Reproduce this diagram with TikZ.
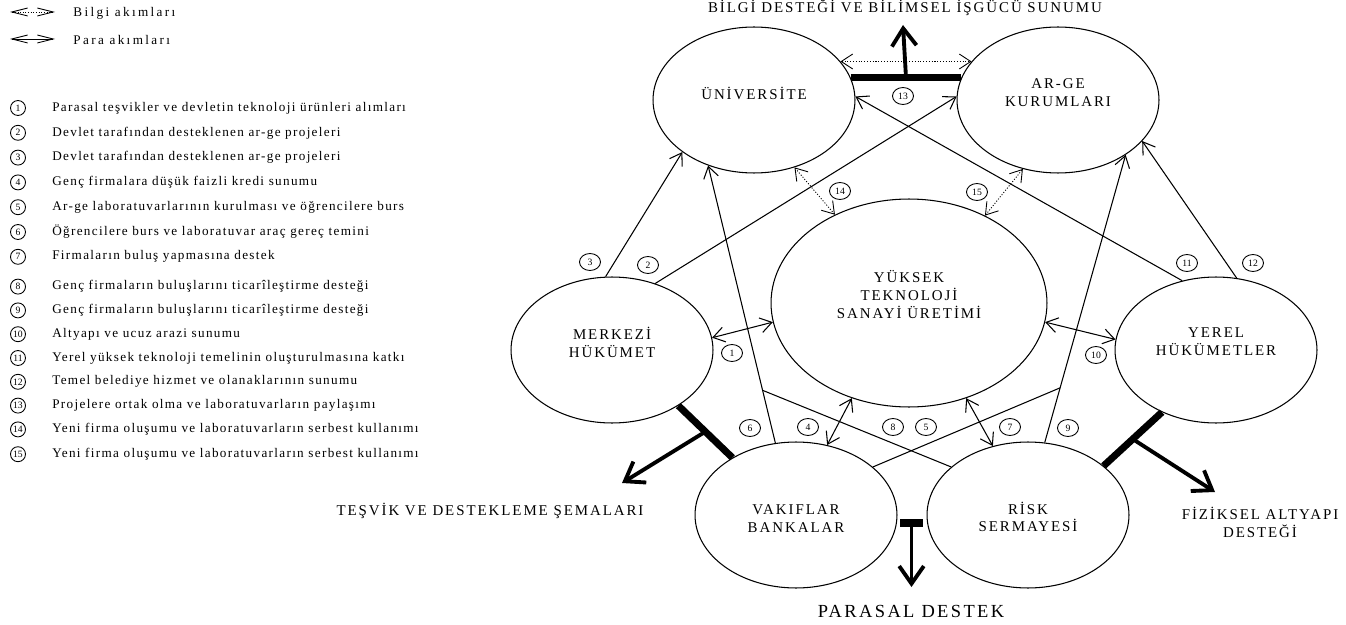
\documentclass[tikz,border=0pt]{standalone}
\usepackage{fontspec}
\setmainfont{Liberation Serif}
\newfontfamily\widefont[LetterSpace=13]{Liberation Serif}
\newfontfamily\legfont[LetterSpace=10]{Liberation Serif}
\newfontfamily\keyfont[LetterSpace=18]{Liberation Serif}
\usetikzlibrary{positioning,arrows.meta,shapes.geometric,calc}

\begin{document}
\begin{tikzpicture}[x=0.02cm, y=-0.02cm,
    actor/.style={draw, ellipse, line width=0.6pt, minimum width=4.04cm, minimum height=2.92cm, inner sep=0pt},
    actortext/.style={align=center, inner sep=0pt, font=\widefont\fontsize{8.5}{10.2}\selectfont},
    num/.style={draw, ellipse, line width=0.5pt, minimum width=0.42cm, minimum height=0.34cm, inner sep=0pt, font=\fontsize{5.5}{6}\selectfont},
    legnum/.style={draw, circle, line width=0.5pt, minimum size=0.3cm, inner sep=0pt, font=\fontsize{5.5}{6}\selectfont},
    legtext/.style={anchor=west, inner sep=0pt, font=\legfont\fontsize{7.5}{9}\selectfont},
    keytext/.style={anchor=west, inner sep=0pt, font=\keyfont\fontsize{7.5}{9}\selectfont},
    heading/.style={align=center, inner sep=0pt, font=\widefont\fontsize{8.5}{10.2}\selectfont},
    flow/.style={-{Straight Barb[length=6.5pt,width=8.5pt]}, line width=0.6pt},
    money/.style={{Straight Barb[length=6.5pt,width=8.5pt]}-{Straight Barb[length=6.5pt,width=8.5pt]}, line width=0.6pt},
    info/.style={money, densely dotted, line width=0.5pt},
    plain/.style={line width=0.6pt},
    bar/.style={line width=4pt},
    outflow/.style={-{Straight Barb[length=10pt,width=14pt]}, line width=2.2pt},
    legarrow/.style={{Straight Barb[length=9pt,width=4.5pt]}-{Straight Barb[length=9pt,width=4.5pt]}, line width=0.5pt}
]
\useasboundingbox (0,0) rectangle (1346,625);

% Legend
\coordinate (la1) at (10,12);
\coordinate (la2) at (55,12);
\draw[legarrow, densely dotted] (la1) -- (la2);
\node[keytext] (bilgi) at (73,13) {Bilgi akımları};
\coordinate (lb1) at (10,39);
\coordinate (lb2) at (55,39);
\draw[legarrow] (lb1) -- (lb2);
\node[keytext] (para) at (73,40) {Para akımları};

% Numbered list
\node[legnum] (l1) at (18,108.0) {1};
\node[legtext] at (52,108.0) {Parasal teşvikler ve devletin teknoloji ürünleri alımları};
\node[legnum] (l2) at (18,132.8) {2};
\node[legtext] at (52,132.8) {Devlet tarafından desteklenen ar-ge projeleri};
\node[legnum] (l3) at (18,157.6) {3};
\node[legtext] at (52,157.6) {Devlet tarafından desteklenen ar-ge projeleri};
\node[legnum] (l4) at (18,182.4) {4};
\node[legtext] at (52,182.4) {Genç firmalara düşük faizli kredi sunumu};
\node[legnum] (l5) at (18,207.2) {5};
\node[legtext] at (52,207.2) {Ar-ge laboratuvarlarının kurulması ve öğrencilere burs};
\node[legnum] (l6) at (18,232.0) {6};
\node[legtext] at (52,232.0) {Öğrencilere burs ve laboratuvar araç gereç temini};
\node[legnum] (l7) at (18,256.8) {7};
\node[legtext] at (52,256.8) {Firmaların buluş yapmasına destek};
\node[legnum] (l8) at (18,286.6) {8};
\node[legtext] at (52,286.6) {Genç firmaların buluşlarını ticarîleştirme desteği};
\node[legnum] (l9) at (18,310.4) {9};
\node[legtext] at (52,310.4) {Genç firmaların buluşlarını ticarîleştirme desteği};
\node[legnum] (l10) at (18,334.2) {10};
\node[legtext] at (52,334.2) {Altyapı ve ucuz arazi sunumu};
\node[legnum] (l11) at (18,358.0) {11};
\node[legtext] at (52,358.0) {Yerel yüksek teknoloji temelinin oluşturulmasına katkı};
\node[legnum] (l12) at (18,381.8) {12};
\node[legtext] at (52,381.8) {Temel belediye hizmet ve olanaklarının sunumu};
\node[legnum] (l13) at (18,405.6) {13};
\node[legtext] at (52,405.6) {Projelere ortak olma ve laboratuvarların paylaşımı};
\node[legnum] (l14) at (18,429.4) {14};
\node[legtext] at (52,429.4) {Yeni firma oluşumu ve laboratuvarların serbest kullanımı};
\node[legnum] (l15) at (18,454.2) {15};
\node[legtext] at (52,454.2) {Yeni firma oluşumu ve laboratuvarların serbest kullanımı};

% Actors
\node[actor, label={[actortext, yshift=4pt]center:ÜNİVERSİTE}] (uni) at (754,100) {};
\node[actor, label={[actortext, yshift=4.2pt]center:AR-GE\\KURUMLARI}] (arge) at (1058,100) {};
\node[actor, minimum width=5.52cm, minimum height=4.16cm, label={[actortext, yshift=5pt]center:YÜKSEK\\TEKNOLOJİ\\SANAYİ ÜRETİMİ}] (yuk) at (909,303) {};
\node[actor, label={[actortext, yshift=4.5pt]center:MERKEZİ\\HÜKÜMET}] (merk) at (612,350) {};
\node[actor, label={[actortext, yshift=4.5pt]center:YEREL\\HÜKÜMETLER}] (yerel) at (1216,350) {};
\node[actor, label={[actortext, yshift=-2.3pt]center:VAKIFLAR\\BANKALAR}] (vak) at (796,515) {};
\node[actor, label={[actortext, yshift=-1.1pt]center:RİSK\\SERMAYESİ}] (risk) at (1028,515) {};

% Money flows
\draw[money] (merk.7) -- (yuk.188);
\draw[flow] (merk.57) -- (arge.178);
\draw[flow] (merk.95) -- (uni.216);
\draw[money] (vak.66) -- (yuk.239);
\draw[flow] (vak.106) -- (uni.235);
\coordinate (p8) at ($(vak.106)!0.19!(uni.235)$);
\draw[plain] (p8) -- (risk.148);
\draw[flow] (risk.77) -- (arge.321);
\coordinate (p5) at ($(risk.77)!0.19!(arge.321)$);
\draw[plain] (vak.32) -- (p5);
\draw[money] (yuk.301) -- (risk.117);
\draw[money] (yuk.352) -- (yerel.174);
\draw[flow] (yerel.116) -- (uni.2);
\draw[flow] (yerel.74) -- (arge.334);

% Information flows
\draw[info] (uni.24) -- (arge.156);
\draw[info] (uni.301) -- (yuk.130);
\draw[info] (yuk.49) -- (arge.243);

% Flow numbers
\node[num] (n1) at (732,353) {1};
\node[num] (n2) at (648,265) {2};
\node[num] (n3) at (590,262) {3};
\node[num] (n4) at (808,427) {4};
\node[num] (n5) at (926,427) {5};
\node[num] (n6) at (750,428) {6};
\node[num] (n7) at (1010,427) {7};
\node[num] (n8) at (893,427) {8};
\node[num] (n9) at (1068,428) {9};
\node[num] (n10) at (1096,355) {10};
\node[num] (n11) at (1187,263) {11};
\node[num] (n12) at (1253,263) {12};
\node[num] (n13) at (903,96) {13};
\node[num] (n14) at (840,191) {14};
\node[num] (n15) at (977,192) {15};

% Outputs
\node[heading, anchor=base] (bilgiout) at (905,13) {BİLGİ DESTEĞİ VE BİLİMSEL İŞGÜCÜ SUNUMU};
\coordinate (tb1) at (uni.13);
\coordinate (tb2) at (arge.167);
\draw[bar] (tb1) -- (tb2);
\coordinate (tbend) at (903,25);
\draw[outflow] ($(tb1)!0.5!(tb2)$) -- (tbend);

\node[heading] (tesvik) at (490,511) {TEŞVİK VE DESTEKLEME ŞEMALARI};
\coordinate (lbar1) at (merk.320);
\coordinate (lbar2) at (vak.138);
\draw[bar] (lbar1) -- (lbar2);
\coordinate (lbend) at (622,483);
\draw[outflow] ($(lbar1)!0.5!(lbar2)$) -- (lbend);

\node[heading] (fiziksel) at (1260,522) {FİZİKSEL ALTYAPI\\DESTEĞİ};
\coordinate (rbar1) at (yerel.229);
\coordinate (rbar2) at (risk.33);
\draw[bar] (rbar1) -- (rbar2);
\coordinate (rbend) at (1215,492);
\draw[outflow] ($(rbar1)!0.5!(rbar2)$) -- (rbend);

\node[heading, font=\widefont\fontsize{10.5}{12}\selectfont] (parasal) at (911,611) {PARASAL DESTEK};
\coordinate (bbar1) at (900,523);
\coordinate (bbar2) at (923,523);
\draw[bar] (bbar1) -- (bbar2);
\coordinate (bbend) at (911.5,587);
\draw[outflow] ($(bbar1)!0.5!(bbar2)$) -- (bbend);

\end{tikzpicture}
\end{document}
